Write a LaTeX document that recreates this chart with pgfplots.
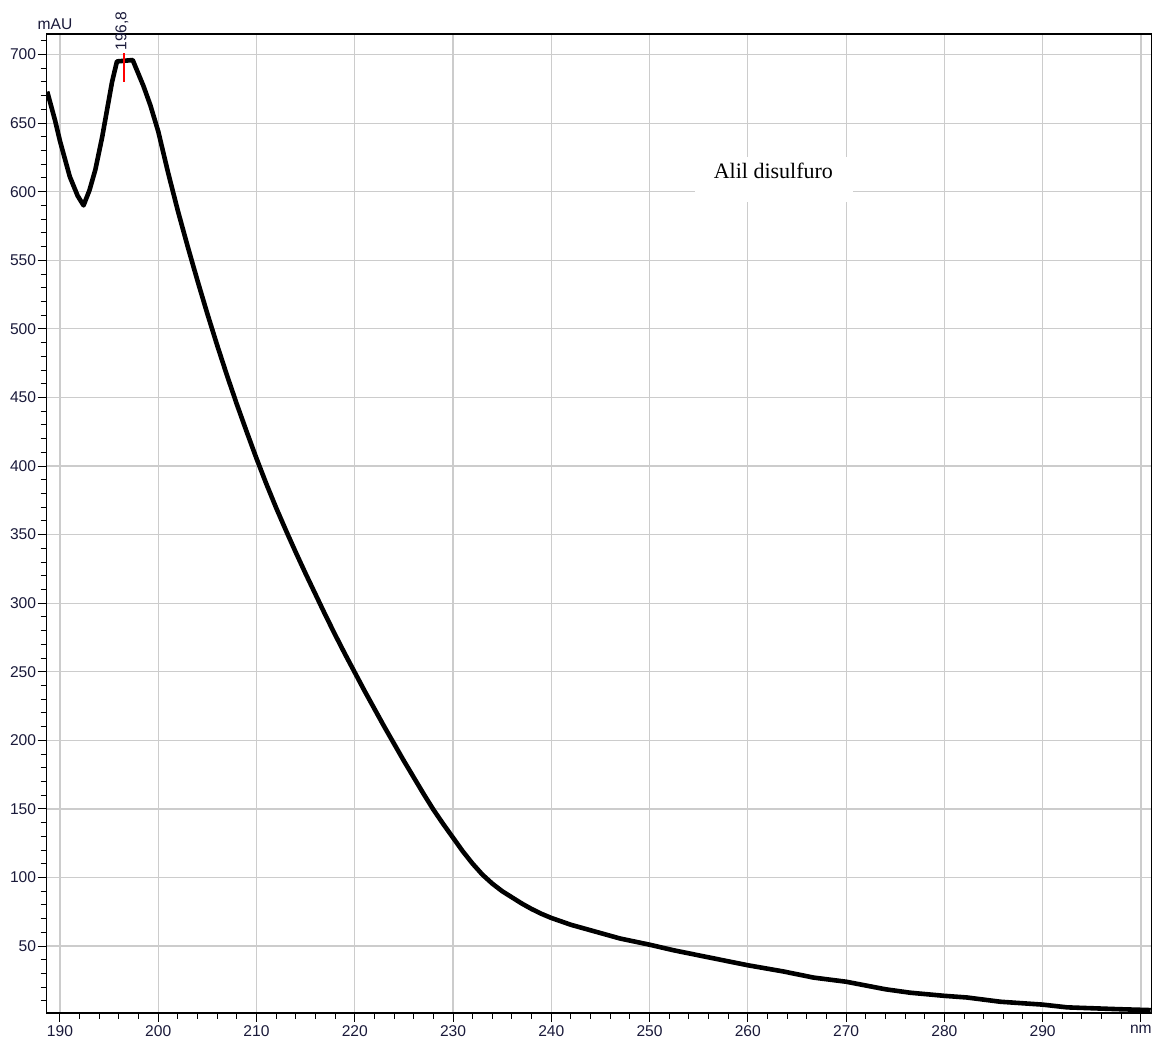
\documentclass[border=0pt]{standalone}
\usepackage{fontspec}
\setmainfont{Liberation Sans}
\newfontfamily\seriffont{Liberation Serif}
\usepackage{pgfplots}
\pgfplotsset{compat=1.18}
\usetikzlibrary{calc}
\definecolor{tickc}{HTML}{1A1A3A}
\definecolor{gridc}{HTML}{CCCCCC}

\pgfplotstableread{
x y
188.7 673
189.5 652
190.0 637
191.0 611
191.8 597
192.4 590
193.0 601
193.6 616
194.3 640
194.8 660
195.3 680
195.8 695
197.4 696
198.5 677
199.2 663
200.0 644
201.0 614
202.0 586
203.0 560
204.0 535
205.0 511
206.0 488
207.0 466
208.0 445
209.0 425
210.0 405.5
211.0 387
212.0 369.5
213.0 353
214.0 337
215.0 321.5
216.0 306.5
217.0 291.5
218.0 277
219.0 263
220.0 249.5
221.0 236
222.0 223
223.0 210
224.0 197.5
225.0 185
226.0 173
227.0 161
228.0 149.5
229.0 139
230.0 129
231.0 119
232.0 110
233.0 102
234.0 95.5
235.0 90
236.0 85.5
237.0 81
238.0 77
239.0 73.5
240.0 70.5
241.0 68
242.0 65.5
243.0 63.5
244.0 61.5
245.0 59.5
246.0 57.5
247.0 55.5
248.0 54
249.0 52.5
250.0 51
252.4 47
255.5 42.5
260.0 36
263.6 31.5
266.7 27
270.0 24
274.0 18.5
276.5 16
280.0 13.7
282.3 12.5
285.7 9.4
290.0 7.3
292.5 5.3
297.6 4
301.0 3.3
}\spectrum

\begin{document}
\begin{tikzpicture}
\begin{axis}[name=ax, scale only axis, width=552.5pt, height=489.5pt,
  xmin=188.65, xmax=301.1, ymin=1.2, ymax=715,
  xtick={190,200,...,300},
  xticklabels={190,200,210,220,230,240,250,260,270,280,290,nm},
  ytick={50,100,...,700},
  minor xtick={190,192,...,300},
  minor ytick={10,20,...,710},
  tick align=outside, major tick length=4.5pt, minor tick length=3pt,
  xtick pos=bottom, ytick pos=left,
  grid=major, major grid style={gridc, line width=0.6pt},
  axis line style={black, line width=0.7pt},
  tick style={black, line width=0.5pt},
  ticklabel style={font=\fontsize{7.8}{8}\selectfont, text=tickc},
  /pgf/number format/assume math mode=true,
  yticklabel style={inner sep=0.6pt},
  xticklabel style={inner sep=1.5pt},
  clip mode=individual,
]
\addplot[black, line width=2.3pt, line join=round] table[x=x, y=y] {\spectrum};
\addplot[red, line width=0.9pt, forget plot] coordinates {(196.5,680) (196.5,701)};
\node[rotate=90, anchor=west, font=\fontsize{7.8}{8}\selectfont, text=tickc, inner sep=0.5pt] at (axis cs:196.3,702) {196,8};
\node[fill=white, minimum width=79pt, minimum height=22.5pt, inner sep=0pt] at (axis cs:262.7,609) {};
\node[font=\seriffont\fontsize{11}{12}\selectfont, inner sep=0pt] at (axis cs:262.6,615) {Alil disulfuro};
\node[anchor=base, font=\fontsize{7.8}{8}\selectfont, text=tickc, inner sep=0pt] at (axis cs:189.5,718) {mAU};
\end{axis}
\pgfresetboundingbox
\path[use as bounding box] ($(ax.south west)+(-23.35pt,-13.5pt)$) rectangle ($(ax.north east)+(1.65pt,17pt)$);
\end{tikzpicture}
\end{document}
